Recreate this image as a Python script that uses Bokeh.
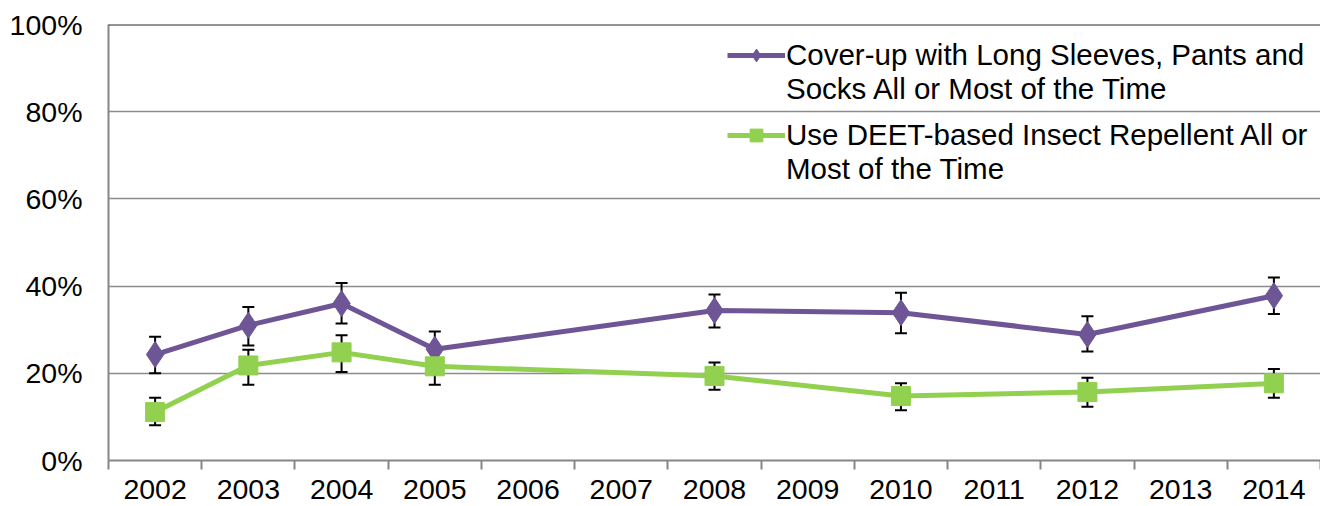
from bokeh.plotting import figure
from bokeh.models import (ColumnDataSource, Whisker, TeeHead, FixedTicker, Span,
                          Legend, LegendItem, CustomJSTickFormatter)
from bokeh.embed import file_html
from bokeh.resources import INLINE

years = [2002, 2003, 2004, 2005, 2008, 2010, 2012, 2014]
all_years = list(range(2002, 2015))
y_ticks = [0, 20, 40, 60, 80, 100]

cover_name = ["Cover-up with Long Sleeves, Pants and", "Socks All or Most of the Time"]
cover = [24.3, 31.0, 36.0, 25.5, 34.4, 33.9, 28.9, 37.8]
cover_hi = [28.4, 35.2, 40.7, 29.6, 38.1, 38.5, 33.1, 42.0]
cover_lo = [20.0, 26.4, 31.4, 21.4, 30.5, 29.2, 25.0, 33.6]

deet_name = ["Use DEET-based Insect Repellent All or", "Most of the Time"]
deet = [11.1, 21.8, 24.8, 21.6, 19.4, 14.8, 15.7, 17.7]
deet_hi = [14.4, 25.4, 28.7, 25.6, 22.5, 17.7, 19.0, 21.0]
deet_lo = [8.1, 17.4, 20.3, 17.4, 16.2, 11.5, 12.3, 14.4]

PURPLE = "#6E5595"
GREEN = "#92D050"
FONT = "Liberation Sans"

p = figure(width=1320, height=506, output_backend="svg", toolbar_location=None,
           x_range=(all_years[0] - 0.5, all_years[-1] + 0.5), y_range=(0, 100),
           min_border_left=108, min_border_right=0, min_border_top=24, min_border_bottom=46)
p.outline_line_color = None
p.background_fill_color = "white"
p.border_fill_color = "white"

# axes
p.xaxis.ticker = FixedTicker(ticks=all_years, minor_ticks=[y - 0.5 for y in all_years] + [all_years[-1] + 0.5])
p.xaxis.major_tick_line_color = None
p.xaxis.major_tick_out = 0
p.xaxis.minor_tick_in = 0
p.xaxis.minor_tick_out = 9
p.xaxis.minor_tick_line_color = "#868686"
p.xaxis.minor_tick_line_width = 2
p.xaxis.axis_line_color = "#868686"
p.xaxis.axis_line_width = 2
p.xaxis.major_label_standoff = 10
p.xaxis.major_label_text_font = FONT
p.xaxis.major_label_text_font_size = "28.5px"
p.xaxis.major_label_text_color = "black"

p.yaxis.ticker = FixedTicker(ticks=y_ticks)
p.yaxis.formatter = CustomJSTickFormatter(code="return tick.toFixed(0) + '%';")
p.yaxis.major_tick_out = 0
p.yaxis.major_tick_in = 0
p.yaxis.minor_tick_line_color = None
p.yaxis.axis_line_color = "#868686"
p.yaxis.axis_line_width = 2
p.yaxis.major_label_standoff = 26
p.yaxis.major_label_text_font = FONT
p.yaxis.major_label_text_font_size = "28.5px"
p.yaxis.major_label_text_color = "black"

p.xgrid.grid_line_color = None
p.ygrid.ticker = FixedTicker(ticks=y_ticks[1:-1])
p.ygrid.grid_line_color = "#8C8C8C"
p.ygrid.grid_line_width = 1.5

p.add_layout(Span(location=y_ticks[-1], dimension="width", line_color="#2B2B2B", line_width=2))

src_c = ColumnDataSource(dict(x=years, y=cover, hi=cover_hi, lo=cover_lo))
src_d = ColumnDataSource(dict(x=years, y=deet, hi=deet_hi, lo=deet_lo))

for src in (src_c, src_d):
    w = Whisker(source=src, base="x", upper="hi", lower="lo", dimension="height",
                line_color="black", line_width=2, level="underlay",
                upper_head=TeeHead(size=12, line_color="black", line_width=2),
                lower_head=TeeHead(size=12, line_color="black", line_width=2))
    p.add_layout(w)

l_c = p.line("x", "y", source=src_c, line_color=PURPLE, line_width=5)
m_c = p.scatter("x", "y", source=src_c, marker="diamond", size=26,
                fill_color=PURPLE, line_color=PURPLE)
l_d = p.line("x", "y", source=src_d, line_color=GREEN, line_width=5)
m_d = p.scatter("x", "y", source=src_d, marker="square", size=19,
                fill_color=GREEN, line_color=GREEN)

# invisible renderer used for the second line of each legend entry
blank = p.scatter(x=[], y=[], size=1, fill_alpha=0, line_alpha=0)


def make_legend(lines, renderers, bottom):
    return Legend(items=[LegendItem(label=lines[0], renderers=renderers),
                         LegendItem(label=lines[1], renderers=[blank])],
                  location=(619, bottom), border_line_color=None, background_fill_alpha=0,
                  label_text_font=FONT, label_text_font_size="29.5px",
                  label_text_color="black", glyph_width=58, glyph_height=32,
                  label_height=24, label_standoff=1, spacing=0, padding=0, margin=0)


p.add_layout(make_legend(cover_name, [l_c, m_c], 354))
p.add_layout(make_legend(deet_name, [l_d, m_d], 274))

open("out.html", "w").write(file_html(p, INLINE))
